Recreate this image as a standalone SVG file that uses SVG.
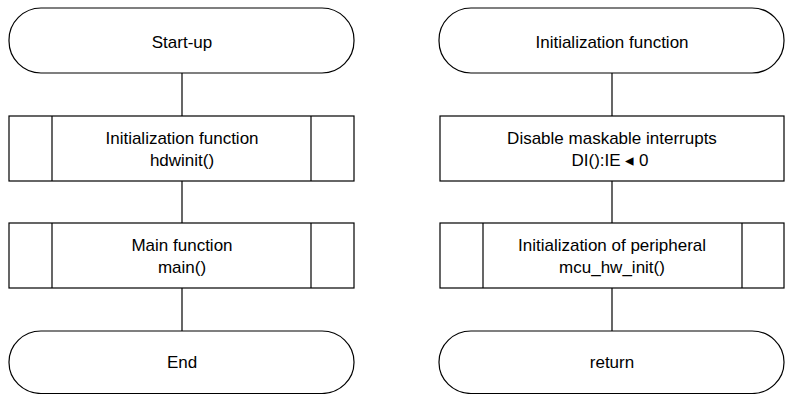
<svg xmlns="http://www.w3.org/2000/svg" width="787" height="394" viewBox="0 0 787 394">
<style>
.s{fill:#fff;stroke:#000;stroke-width:1.2}
.l{stroke:#000;stroke-width:1.2;fill:none}
text{font-family:"Liberation Sans",Arial,sans-serif;font-size:17px;fill:#000;text-anchor:middle}
</style>
<rect width="787" height="394" fill="#fff"/>
<g id="connectors">
<line class="l" x1="182" y1="73" x2="182" y2="116"/>
<line class="l" x1="182" y1="181" x2="182" y2="223"/>
<line class="l" x1="182" y1="288" x2="182" y2="331"/>
<line class="l" x1="612" y1="73" x2="612" y2="116"/>
<line class="l" x1="612" y1="181" x2="612" y2="223"/>
<line class="l" x1="612" y1="288" x2="612" y2="331"/>
</g>
<g id="startup">
<rect class="s" x="9" y="8" width="345" height="65" rx="32" ry="32"/>
<text x="182" y="48">Start-up</text>
</g>
<g id="hdwinit">
<rect class="s" x="9" y="116" width="345" height="65"/>
<line class="l" x1="52" y1="116" x2="52" y2="181"/>
<line class="l" x1="311" y1="116" x2="311" y2="181"/>
<text x="182" y="143.5">Initialization function</text>
<text x="182" y="166">hdwinit()</text>
</g>
<g id="main">
<rect class="s" x="9" y="223" width="345" height="65"/>
<line class="l" x1="52" y1="223" x2="52" y2="288"/>
<line class="l" x1="311" y1="223" x2="311" y2="288"/>
<text x="182" y="250.5">Main function</text>
<text x="182" y="273">main()</text>
</g>
<g id="end">
<rect class="s" x="9" y="331" width="345" height="62.5" rx="32" ry="31"/>
<text x="182" y="368">End</text>
</g>
<g id="initfunc">
<rect class="s" x="439" y="8" width="345" height="65" rx="32" ry="32"/>
<text x="612" y="48">Initialization function</text>
</g>
<g id="di">
<rect class="s" x="440" y="116" width="344" height="65"/>
<text x="612" y="143.5">Disable maskable interrupts</text>
<text x="610" y="166">DI():IE ◂ 0</text>
</g>
<g id="mcuinit">
<rect class="s" x="440" y="223" width="344" height="65"/>
<line class="l" x1="483" y1="223" x2="483" y2="288"/>
<line class="l" x1="742" y1="223" x2="742" y2="288"/>
<text x="612" y="250.5">Initialization of peripheral</text>
<text x="612" y="273">mcu_hw_init()</text>
</g>
<g id="return">
<rect class="s" x="439" y="331" width="345" height="62.5" rx="32" ry="31"/>
<text x="612" y="368">return</text>
</g>
</svg>
